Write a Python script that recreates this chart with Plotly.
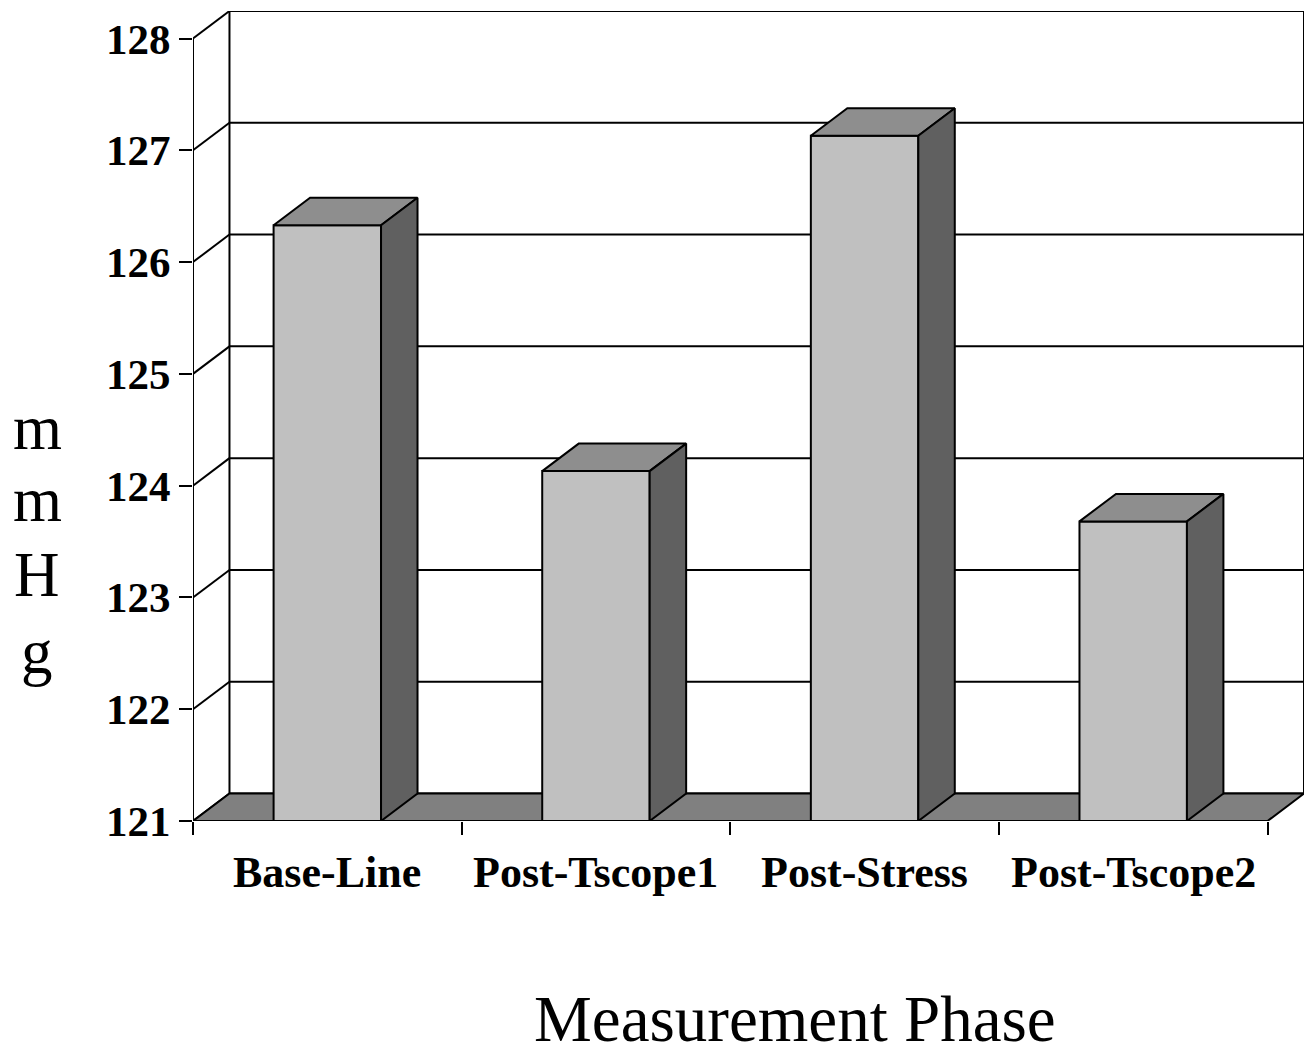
import plotly.graph_objects as go

# Mean systolic pressure (mmHg) for each measurement phase
categories = ["Base-Line", "Post-Tscope1", "Post-Stress", "Post-Tscope2"]
values = [126.33, 124.13, 127.13, 123.68]
y_ticks = [121, 122, 123, 124, 125, 126, 127, 128]
y_title_letters = ["m", "m", "H", "g"]

Y_MIN, Y_MAX = 121, 128
BAR_W = 0.4              # bar width as a fraction of a category band
DX, DY = 0.1358, 0.246   # depth offset of the 3-D box (x units, y units)

W, H = 1306, 1050
M_L, M_R, M_T, M_B = 193, 2, 11, 229

FONT = "Liberation Serif, Times New Roman, serif"
LINE = dict(color="black", width=2)

fig = go.Figure()


def poly(xs, ys, fill):
    fig.add_trace(go.Scatter(
        x=xs + [xs[0]], y=ys + [ys[0]], mode="lines", fill="toself",
        fillcolor=fill, line=LINE, hoverinfo="skip", showlegend=False,
        cliponaxis=False))


def seg(xs, ys):
    fig.add_trace(go.Scatter(
        x=xs, y=ys, mode="lines", line=LINE, hoverinfo="skip",
        showlegend=False, cliponaxis=False))


x0, x1 = -0.5, len(categories) - 0.5

# walls: back-wall gridlines, side-wall diagonals, frame edges
for v in y_ticks:
    seg([x0 + DX, x1 + DX], [v + DY, v + DY])
    seg([x0, x0 + DX], [v, v + DY])
seg([x0 + DX, x0 + DX], [Y_MIN + DY, Y_MAX + DY])
seg([x1 + DX, x1 + DX], [Y_MIN + DY, Y_MAX + DY])
seg([x0, x0], [Y_MIN, Y_MAX])

# floor
poly([x0, x1, x1 + DX, x0 + DX], [Y_MIN, Y_MIN, Y_MIN + DY, Y_MIN + DY], "#808080")

# 3-D columns: front, top and side faces
for i, v in enumerate(values):
    l, r = i - BAR_W / 2, i + BAR_W / 2
    poly([l, r, r, l], [Y_MIN, Y_MIN, v, v], "#C0C0C0")
    poly([l, r, r + DX, l + DX], [v, v, v + DY, v + DY], "#8E8E8E")
    poly([r, r + DX, r + DX, r], [Y_MIN, Y_MIN + DY, v + DY, v], "#606060")

# category labels under each band
for i, c in enumerate(categories):
    fig.add_annotation(x=i, xref="x", y=0, yref="paper", yanchor="middle",
                       yshift=-51, text=c, showarrow=False,
                       font=dict(family=FONT, size=44, color="black",
                                 weight="bold"))

# vertical axis title, one letter per line (centres in pixels from top)
plot_h = H - M_T - M_B
for ch, py in zip(y_title_letters, [428, 500, 575, 652]):
    fig.add_annotation(x=0, xref="paper", xanchor="center", xshift=37 - M_L,
                       y=(H - M_B - py) / plot_h, yref="paper",
                       yanchor="middle", text=ch, showarrow=False,
                       font=dict(family=FONT, size=63, color="black"))

# horizontal axis title
fig.add_annotation(x=0.5, xref="paper", xshift=46, y=0, yref="paper",
                   yanchor="middle", yshift=-198, text="Measurement Phase",
                   showarrow=False,
                   font=dict(family=FONT, size=65, color="black"))

fig.update_layout(
    width=W, height=H,
    margin=dict(l=M_L, r=M_R, t=M_T, b=M_B),
    paper_bgcolor="white", plot_bgcolor="white",
    xaxis=dict(range=[x0, x1 + DX],
               tickvals=[x0 + k for k in range(len(categories) + 1)],
               showticklabels=False, ticks="outside", ticklen=13, tickwidth=2,
               tickcolor="black", showgrid=False, zeroline=False,
               showline=False, fixedrange=True),
    yaxis=dict(range=[Y_MIN, Y_MAX + DY], tickvals=y_ticks,
               ticks="outside", ticklen=13, tickwidth=2, tickcolor="black",
               showgrid=False, zeroline=False, showline=False,
               fixedrange=True,
               tickfont=dict(family=FONT, size=43, color="black",
                             weight="bold")),
)

fig.write_html("out.html")
